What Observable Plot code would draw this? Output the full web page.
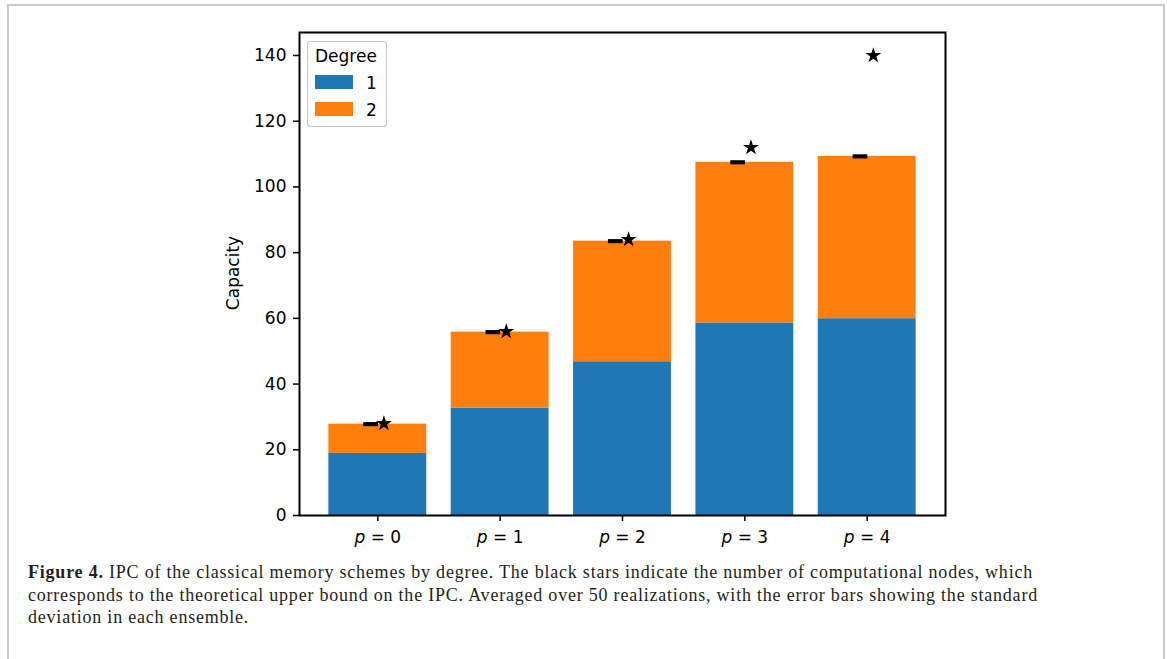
<!DOCTYPE html>
<html><head><meta charset="utf-8">
<script src="https://cdn.jsdelivr.net/npm/d3@7"></script>
<script src="https://cdn.jsdelivr.net/npm/@observablehq/plot@0.6"></script>
<style>
html,body{margin:0;padding:0;background:#fff;width:1167px;height:659px;overflow:hidden;}
#frame{position:absolute;left:7px;top:4px;width:1154px;height:700px;border:2px solid #cbcbcb;border-bottom:none;}
#chart{position:absolute;left:0;top:0;}
#caption{position:absolute;left:28px;top:561px;font-family:"Liberation Serif",serif;font-size:18px;line-height:22.5px;color:#231f20;white-space:nowrap;}
#caption span{display:inline-block;}
</style></head><body>
<div id="frame"></div>
<div id="chart"></div>
<div id="caption"><span id="l1"><b>Figure 4.</b> IPC of the classical memory schemes by degree. The black stars indicate the number of computational nodes, which</span><br><span id="l2">corresponds to the theoretical upper bound on the IPC. Averaged over 50 realizations, with the error bars showing the standard</span><br><span id="l3">deviation in each ensemble.</span></div>
<script>
const pValues = [0, 1, 2, 3, 4];
const degree1 = [18.9, 32.7, 46.8, 58.6, 59.9];
const degree2 = [8.9, 23.1, 36.7, 48.9, 49.4];
const totalStd = [0.25, 0.25, 0.25, 0.25, 0.25];
const nodes = [28, 56, 84, 112, 140];
const yTicks = [0, 20, 40, 60, 80, 100, 120, 140];
const legendTitle = "Degree";
const legendLabels = ["1", "2"];
const colors = ["#1f77b4", "#ff7f0e"];

const barHalf = 0.4, errOffset = -0.055, starOffset = 0.05, capHalf = 0.06;

const rows = pValues.map((p, i) => ({
  p, d1: degree1[i], d2: degree2[i], total: degree1[i] + degree2[i],
  std: totalStd[i], nodes: nodes[i]
}));

const svg = Plot.plot({
  width: 1167, height: 560,
  marginLeft: 299, marginRight: 222, marginTop: 32, marginBottom: 45,
  style: {fontFamily: "DejaVu Sans", fontSize: "17px", color: "black", background: "transparent"},
  x: {type: "linear", domain: [-0.64, 4.64]},
  y: {domain: [0, 147]},
  marks: [
    Plot.rectY(rows, {x1: d => d.p - barHalf, x2: d => d.p + barHalf, y1: 0, y2: "d1", fill: colors[0]}),
    Plot.rectY(rows, {x1: d => d.p - barHalf, x2: d => d.p + barHalf, y1: "d1", y2: "total", fill: colors[1]}),
    Plot.ruleX(rows, {x: d => d.p + errOffset, y1: d => d.total - d.std, y2: d => d.total + d.std, stroke: "black", strokeWidth: 2}),
    Plot.ruleY(rows, {y: d => d.total + d.std, x1: d => d.p + errOffset - capHalf, x2: d => d.p + errOffset + capHalf, stroke: "black", strokeWidth: 2.5}),
    Plot.ruleY(rows, {y: d => d.total - d.std, x1: d => d.p + errOffset - capHalf, x2: d => d.p + errOffset + capHalf, stroke: "black", strokeWidth: 2.5}),
    Plot.dot(rows, {x: d => d.p + starOffset, y: "nodes", symbol: "star", fill: "black", stroke: "none", r: 5}),
    Plot.axisY({ticks: yTicks, tickSize: 6, tickPadding: 7, label: null, strokeWidth: 1.5, fontSize: 17}),
    Plot.axisX({ticks: pValues, tickFormat: d => `p = ${d}`, tickSize: 6, tickPadding: 9, label: null, strokeWidth: 1.5, fontSize: 17}),
    Plot.frame({stroke: "black", strokeWidth: 2})
  ]
});
document.getElementById("chart").appendChild(svg);

const s = d3.select(svg);
// italic p in x tick labels
s.selectAll('[aria-label="x-axis tick label"] text').each(function() {
  const t = this.textContent;
  const rest = t.slice(1);
  const el = d3.select(this);
  el.text(null);
  el.append("tspan").attr("font-style", "italic").text(t[0]);
  el.append("tspan").text(rest);
});

// y label
s.append("text")
  .attr("transform", "translate(239,273) rotate(-90)")
  .attr("text-anchor", "middle")
  .attr("font-family", "DejaVu Sans").attr("font-size", 17)
  .text("Capacity");

// legend
const lg = s.append("g").attr("font-family", "DejaVu Sans").attr("font-size", 17).attr("text-anchor", "start");
lg.append("rect").attr("x", 307.5).attr("y", 41.5).attr("width", 79).attr("height", 85).attr("rx", 3)
  .attr("fill", "white").attr("fill-opacity", 0.8).attr("stroke", "#cccccc").attr("stroke-width", 1.2);
lg.append("text").attr("x", 315).attr("y", 62).attr("text-anchor", "start").text(legendTitle);
legendLabels.forEach((lab, i) => {
  lg.append("rect").attr("x", 315).attr("y", 75 + 27 * i).attr("width", 38).attr("height", 14).attr("fill", colors[i]);
  lg.append("text").attr("x", 366).attr("y", 89 + 27 * i).attr("text-anchor", "start").text(lab);
});

// caption letter-spacing fit
const l1 = document.getElementById("l1");
const w = l1.getBoundingClientRect().width;
const n = l1.textContent.length;
const ls = (1005 - w) / n;
document.getElementById("caption").style.letterSpacing = ls + "px";
</script>
</body></html>
